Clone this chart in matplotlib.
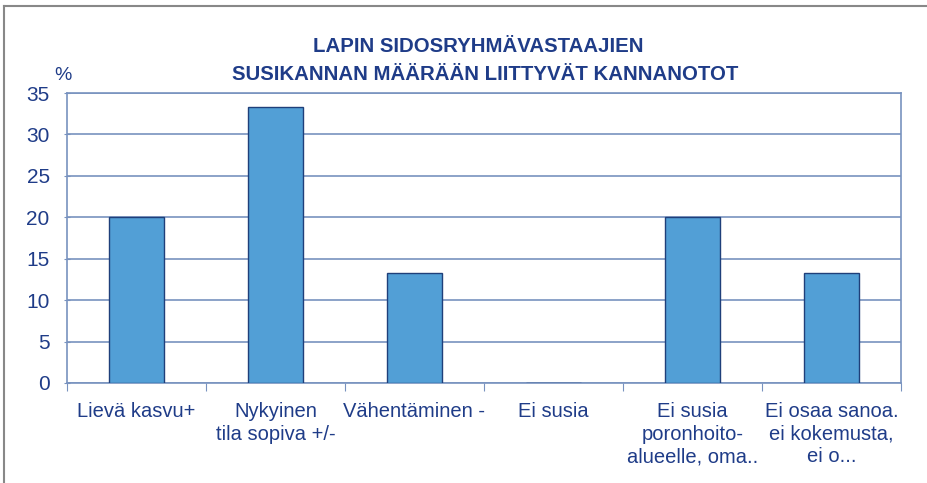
import matplotlib.pyplot as plt

# data
categories = ["Lievä kasvu+", "Nykyinen\ntila sopiva +/-", "Vähentäminen -", "Ei susia",
              "Ei susia\nporonhoito-\nalueelle, oma..", "Ei osaa sanoa.\nei kokemusta,\nei o..."]
values = [20, 33.3, 13.3, 0, 20, 13.3]
yticks = [0, 5, 10, 15, 20, 25, 30, 35]

txt = "#1f3c88"
grid = "#7892bf"
plt.rcParams['font.family'] = ['Liberation Sans', 'DejaVu Sans']

fig = plt.figure(figsize=(9.27, 4.83), dpi=100)
ax = fig.add_axes([67/927, 100/483, 834/927, 290/483])

x = range(len(categories))
ax.bar(x, values, width=0.4, color="#529fd6", edgecolor="#1f3f7a", linewidth=1, zorder=3)

ax.set_xlim(-0.5, len(categories) - 0.5)
ax.set_ylim(0, 35)
ax.set_yticks(yticks)
ax.set_yticklabels([str(t) for t in yticks], color=txt, fontsize=15)
ax.yaxis.grid(True, color=grid, linewidth=1.2, zorder=0)
ax.tick_params(axis='y', direction='inout', length=5, color=grid, pad=10)

ax.set_xticks([i + 0.5 for i in range(-1, len(categories))])
ax.set_xticklabels([])
ax.tick_params(axis='x', direction='out', length=6, color=grid)
for i, c in enumerate(categories):
    ax.text(i, -2.3, c, ha='center', va='top', color=txt, fontsize=14.5,
            linespacing=1.24)

for s in ax.spines.values():
    s.set_color(grid)
    s.set_linewidth(1.2)

ax.text(-0.005, 1.03, "%", transform=ax.transAxes, color=txt, fontsize=14,
        ha='center', va='bottom')

fig.text(478/927, 1 - 47/483, "LAPIN SIDOSRYHMÄVASTAAJIEN", ha='center', va='center',
         color=txt, fontsize=14.7, fontweight='bold')
fig.text(485/927, 1 - 74/483, "SUSIKANNAN MÄÄRÄÄN LIITTYVÄT KANNANOTOT", ha='center', va='center',
         color=txt, fontsize=14.7, fontweight='bold')

# outer frame lines
fig.add_artist(plt.Line2D([4/927, 4/927], [0, 1 - 6/483], color="#888888", linewidth=1.5))
fig.add_artist(plt.Line2D([4/927, 1], [1 - 6/483, 1 - 6/483], color="#888888", linewidth=1.5))

fig.savefig("out.png", dpi=100)
